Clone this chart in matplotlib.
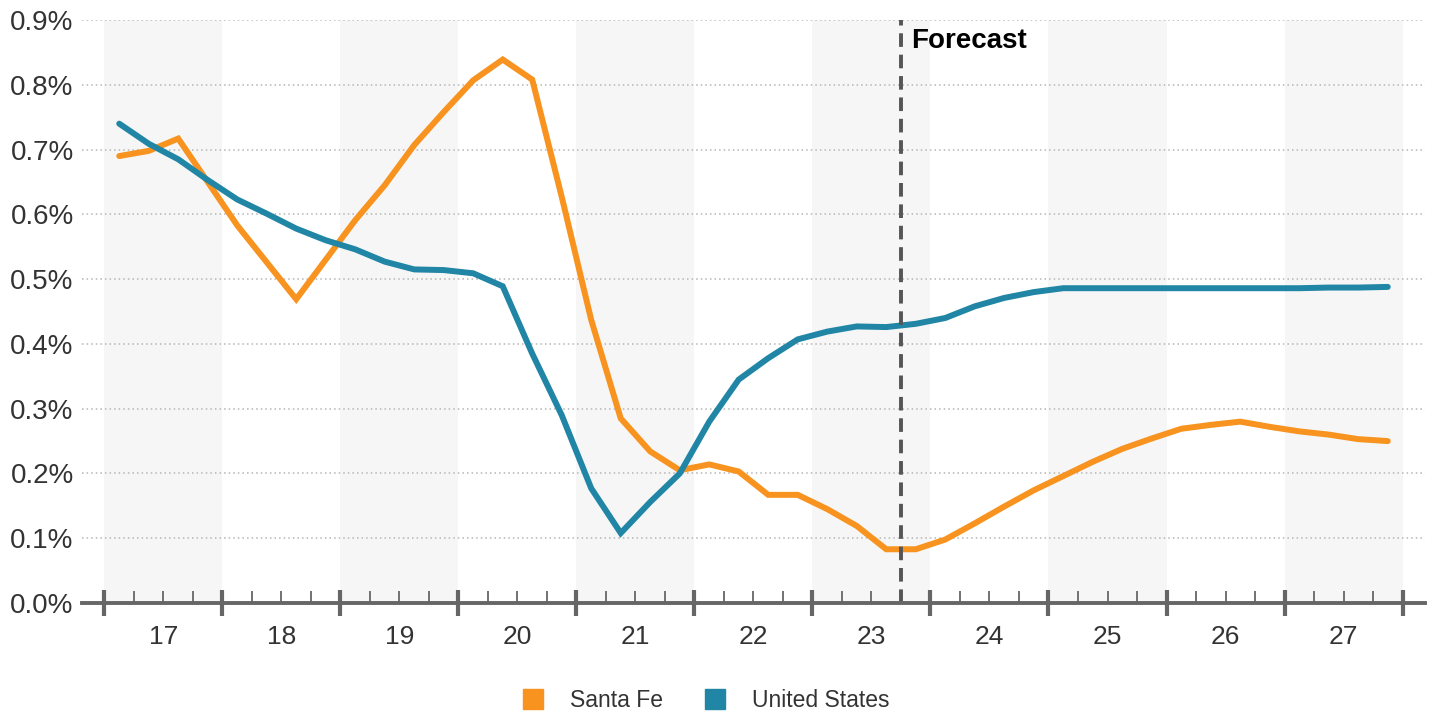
#!/usr/bin/env python3
"""Quarterly growth: Santa Fe vs United States, with forecast marker."""

import matplotlib
matplotlib.use('Agg')
import matplotlib.pyplot as plt
from matplotlib.lines import Line2D
from matplotlib.ticker import FuncFormatter, MultipleLocator
import numpy as np

plt.rcParams['font.family'] = ['Liberation Sans', 'DejaVu Sans']

# Quarters 2017Q1 .. 2027Q4 (values in percent)
years = list(range(2017, 2028))
year_labels = [str(y)[2:] for y in years]

santa_fe = [
    0.690, 0.698, 0.717, 0.650, 0.583, 0.526, 0.469, 0.530,
    0.591, 0.645, 0.707, 0.758, 0.807, 0.839, 0.808, 0.627,
    0.437, 0.285, 0.234, 0.205, 0.214, 0.203, 0.167, 0.167,
    0.145, 0.119, 0.083, 0.083, 0.098, 0.123, 0.149, 0.174,
    0.196, 0.218, 0.238, 0.254, 0.269, 0.275, 0.280, 0.272,
    0.265, 0.260, 0.253, 0.250,
]
united_states = [
    0.740, 0.709, 0.685, 0.653, 0.623, 0.601, 0.578, 0.560,
    0.546, 0.527, 0.515, 0.514, 0.509, 0.489, 0.385, 0.290,
    0.177, 0.108, 0.156, 0.200, 0.280, 0.345, 0.378, 0.407,
    0.419, 0.427, 0.426, 0.431, 0.440, 0.458, 0.471, 0.480,
    0.486, 0.486, 0.486, 0.486, 0.486, 0.486, 0.486, 0.486,
    0.486, 0.487, 0.487, 0.488,
]
forecast_start = 2023.75

ORANGE = '#f7931e'
BLUE = '#2186a5'
AXIS_GREY = '#666666'

n = len(santa_fe)
x = years[0] + (np.arange(n) + 0.5) / 4.0

fig = plt.figure(figsize=(14.37, 7.15), dpi=100)
ax = fig.add_axes([0.0571, 0.1566, 0.9345, 0.8154])

# alternating year bands
for i, y in enumerate(years):
    if i % 2 == 0:
        ax.axvspan(y, y + 1, color='#f6f6f6', lw=0, zorder=0)

ax.set_ylim(0, 0.9)
ax.set_xlim(2016.81, 2028.19)

for v in np.arange(0.1, 0.91, 0.1):
    ax.axhline(v, color='#b5b5b5', lw=1.1, ls=(0, (1, 2)), zorder=1)

ax.plot(x, santa_fe, color=ORANGE, lw=4.3, solid_capstyle='round',
        solid_joinstyle='miter', zorder=3)
ax.plot(x, united_states, color=BLUE, lw=4.3, solid_capstyle='round',
        solid_joinstyle='miter', zorder=3)

ax.axvline(forecast_start, color='#555555', lw=2.8, ls=(0, (3.5, 2)), zorder=4)
ax.text(forecast_start + 0.09, 0.868, 'Forecast', fontsize=20,
        fontweight='bold', color='black', va='center', ha='left', zorder=5)

for side in ['top', 'right', 'left']:
    ax.spines[side].set_visible(False)
ax.spines['bottom'].set_color(AXIS_GREY)
ax.spines['bottom'].set_linewidth(2.8)
ax.spines['bottom'].set_zorder(6)

ax.yaxis.set_major_locator(MultipleLocator(0.1))
ax.yaxis.set_major_formatter(FuncFormatter(lambda v, _: f'{v:.1f}%'))
ax.tick_params(axis='y', length=0, pad=6, labelsize=20, labelcolor='#333333')

ax.set_xticks(years + [years[-1] + 1])
ax.set_xticks([y + q / 4 for y in years for q in (1, 2, 3)], minor=True)
ax.set_xticklabels([])
ax.tick_params(axis='x', which='major', direction='inout', length=19,
               width=3, color=AXIS_GREY)
ax.tick_params(axis='x', which='minor', direction='in', length=9,
               width=1.3, color=AXIS_GREY)
for y, lab in zip(years, year_labels):
    ax.text(y + 0.5, -0.034, lab, ha='center', va='top', fontsize=19,
            color='#333333', transform=ax.transData, clip_on=False)

handles = [
    Line2D([], [], marker='s', ls='none', color=ORANGE, markersize=14),
    Line2D([], [], marker='s', ls='none', color=BLUE, markersize=14),
]
fig.legend(handles, ['Santa Fe', 'United States'], loc='center',
           bbox_to_anchor=(0.487, 0.02), ncol=2, frameon=False,
           fontsize=16.5, handletextpad=0.6, columnspacing=1.3,
           labelcolor='#333333')

plt.savefig('out.png', dpi=100)
plt.close()
